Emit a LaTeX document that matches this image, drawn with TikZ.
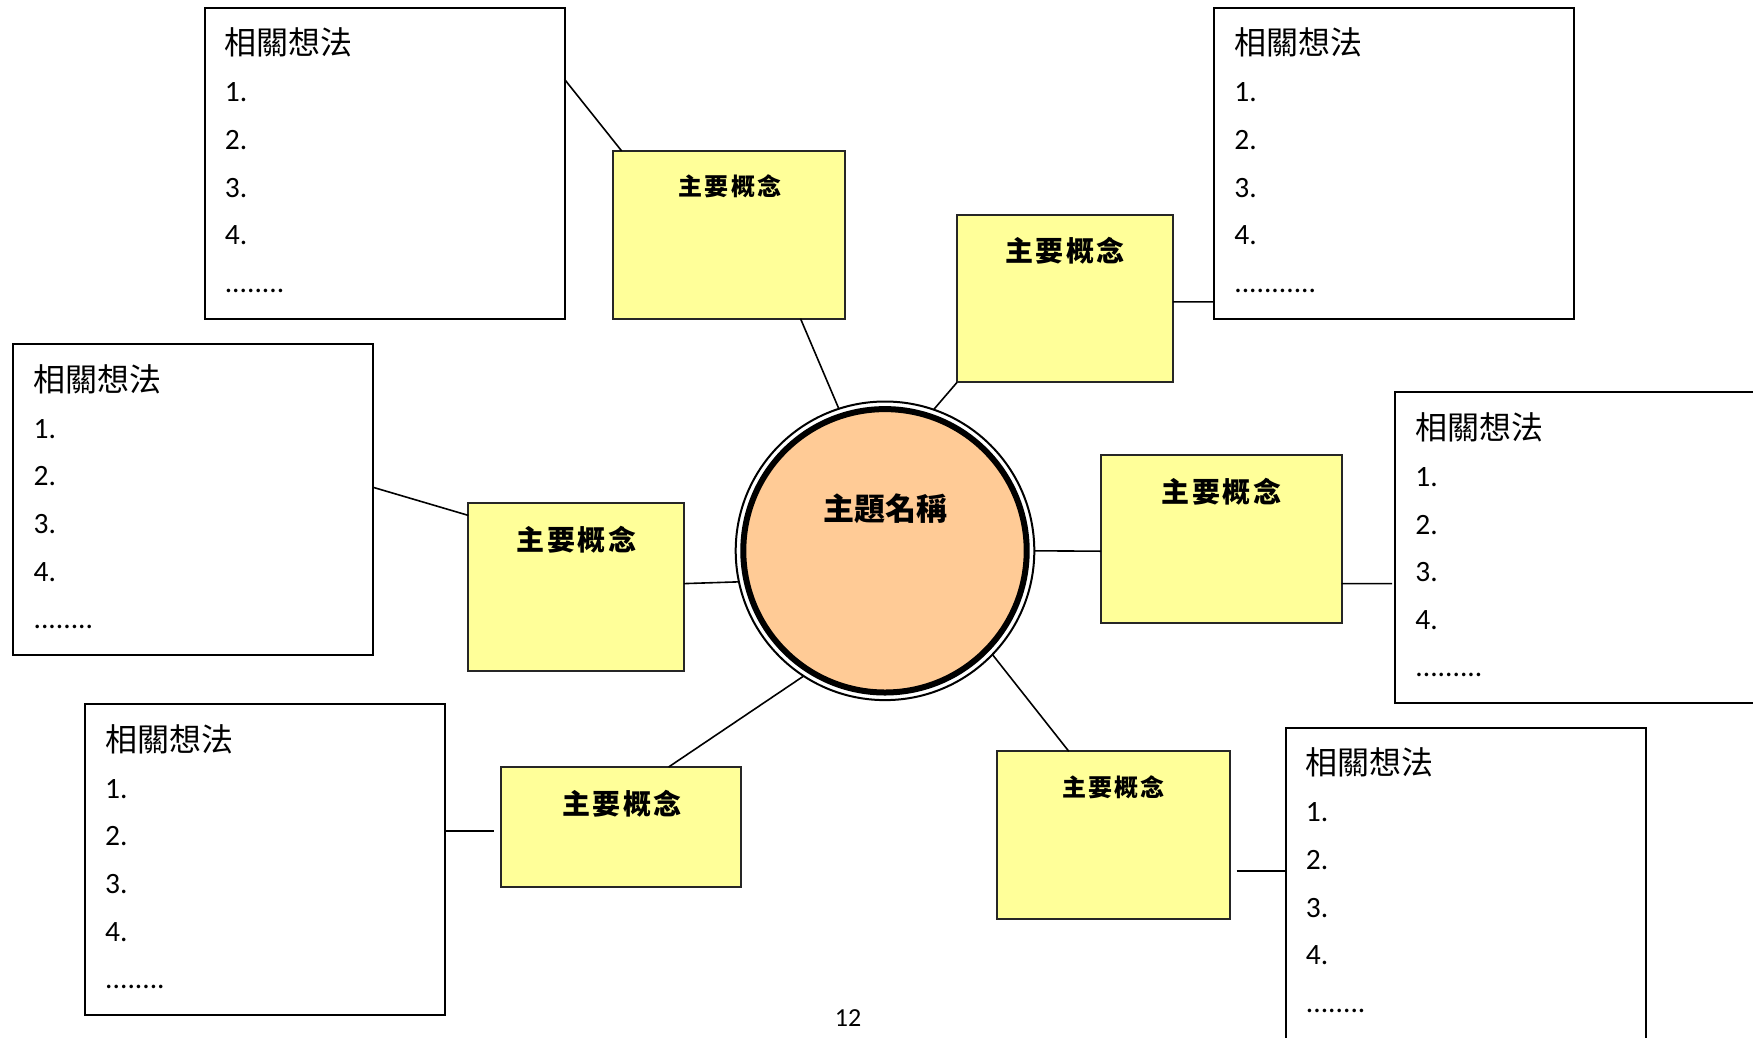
\documentclass[tikz,border=0pt]{standalone}
\usepackage{fontspec}
\setmainfont{Carlito}
\newfontfamily\cjk{Noto Sans CJK TC}
\usetikzlibrary{calc}
\definecolor{conceptfill}{HTML}{FFFF99}
\definecolor{topicfill}{HTML}{FFCB96}
\definecolor{conceptline}{HTML}{262626}
\newcommand\conceptlabel{主\hspace{0.09em}要\hspace{0.09em}概\hspace{0.09em}念}
\newcommand\ideablock[2]{%
  \node[ideatitle] (#1-t) at ($(#1.north west)+(20,47)$) {相關想法};
  \node[ideaitem] (#1-1) at ($(#1.north west)+(20,94)$) {1.};
  \node[ideaitem] (#1-2) at ($(#1.north west)+(20,141.6)$) {2.};
  \node[ideaitem] (#1-3) at ($(#1.north west)+(20,189.2)$) {3.};
  \node[ideaitem] (#1-4) at ($(#1.north west)+(20,236.8)$) {4.};
  \node[ideaitem] (#1-d) at ($(#1.north west)+(20,284.5)$) {#2};
}
\begin{document}
\begin{tikzpicture}[x=1pt,y=-1pt,
  ideabox/.style={draw=black, line width=2pt, fill=white, inner sep=0pt, outer sep=0pt,
    minimum width=360pt, minimum height=310.8pt, anchor=north west},
  concept/.style={draw=conceptline, line width=2pt, fill=conceptfill, inner sep=0pt,
    outer sep=0pt, anchor=north west},
  conn/.style={draw=black, line width=1.6pt},
  ideatitle/.style={anchor=base west, inner sep=0pt, font=\cjk\fontsize{32}{38}\selectfont},
  ideaitem/.style={anchor=base west, inner sep=0pt, font=\fontsize{29.5}{35}\selectfont},
  biglabel/.style={anchor=base, inner sep=0pt, font=\cjk\bfseries\fontsize{28}{34}\selectfont},
  smalllabel/.style={anchor=base, inner sep=0pt, font=\cjk\bfseries\fontsize{24}{30}\selectfont},
]
\useasboundingbox (0,0) rectangle (1753,1037);
\fill[white] (0,0) rectangle (1753,1037);

% idea boxes
\node[ideabox] (tl) at (204.6,7.8) {};
\node[ideabox] (tr) at (1214.1,7.8) {};
\node[ideabox] (lb) at (13.4,344.3) {};
\node[ideabox] (rb) at (1395.2,392.4) {};
\node[ideabox] (bl) at (85.0,704.3) {};
\node[ideabox] (br) at (1285.7,727.8) {};

\ideablock{tl}{........}
\ideablock{tr}{...........}
\ideablock{lb}{........}
\ideablock{rb}{.........}
\ideablock{bl}{........}
\ideablock{br}{........}

% concept boxes
\node[concept, minimum width=232.5pt, minimum height=167.7pt] (c1) at (612.7,150.9) {};
\node[concept, minimum width=215.8pt, minimum height=167.7pt] (c2) at (957.0,214.7) {};
\node[concept, minimum width=215.8pt, minimum height=167.7pt] (c3) at (468.4,503.1) {};
\node[concept, minimum width=240.4pt, minimum height=167.7pt] (c4) at (1101.2,455.0) {};
\node[concept, minimum width=240.3pt, minimum height=119.6pt] (c5) at (500.9,767.0) {};
\node[concept, minimum width=232.5pt, minimum height=167.7pt] (c6) at (997.3,751.3) {};

\node[smalllabel] (c1-t) at ($(c1.north)+(1,45)$) {\conceptlabel};
\node[biglabel] (c2-t) at ($(c2.north)+(0,47)$) {\conceptlabel};
\node[biglabel] (c3-t) at ($(c3.north)+(0,47)$) {\conceptlabel};
\node[biglabel] (c4-t) at ($(c4.north)+(0,47)$) {\conceptlabel};
\node[biglabel] (c5-t) at ($(c5.north)+(1,47)$) {\conceptlabel};
\node[smalllabel] (c6-t) at ($(c6.north)+(0,45)$) {\conceptlabel};

% topic circle
\node[circle, draw=black, line width=2pt, fill=white, minimum size=298.6pt,
  inner sep=0pt, outer sep=0pt] (topic) at (885,550.8) {};
\node[circle, draw=black, line width=6pt, fill=topicfill, minimum size=283.4pt,
  inner sep=0pt, outer sep=0pt] (topicin) at (topic.center) {};
\node[anchor=base, inner sep=0pt, font=\cjk\bfseries\fontsize{31}{36}\selectfont]
  (topictext) at (885.5,520.5) {主題名稱};

% free ends of connectors
\coordinate (rgap) at ($(rb.north west)+(-3,191.2)$);
\coordinate (blgap) at ($(c5.north west)+(-7,63.7)$);
\coordinate (brgap) at ($(c6.north east)+(6.7,119.6)$);

% connectors
\draw[conn] ($(tl.north east)+(0,71.6)$) -- ($(c1.north west)+(8.9,0)$);
\draw[conn] ($(c1.south west)+(187.8,0)$) -- (topic.108.8);
\draw[conn] (topic.71.2) -- (c2.south west);
\draw[conn] ($(c2.north east)+(0,87.2)$) -- ($(tr.north west)+(0,294.1)$);
\draw[conn] ($(lb.north east)+(0,143.1)$) -- ($(c3.north west)+(0,12.3)$);
\draw[conn] ($(c3.north east)+(0,80.5)$) -- (topic.192.3);
\draw[conn] (topic.-0.15) -- ($(c4.north west)+(0,96.2)$);
\draw[conn] ($(c4.north east)+(0,128.6)$) -- (rgap);
\draw[conn] (topic.237.8) -- ($(c5.north west)+(167.7,0)$);
\draw[conn] ($(bl.north east)+(0,126.4)$) -- (blgap);
\draw[conn] (topic.316.5) -- ($(c6.north west)+(71.5,0)$);
\draw[conn] (brgap) -- ($(br.north west)+(0,143.1)$);

% page number
\node[anchor=base, inner sep=0pt, font=\fontsize{26}{30}\selectfont] (pagenum) at (848,1026.7) {12};
\end{tikzpicture}
\end{document}
